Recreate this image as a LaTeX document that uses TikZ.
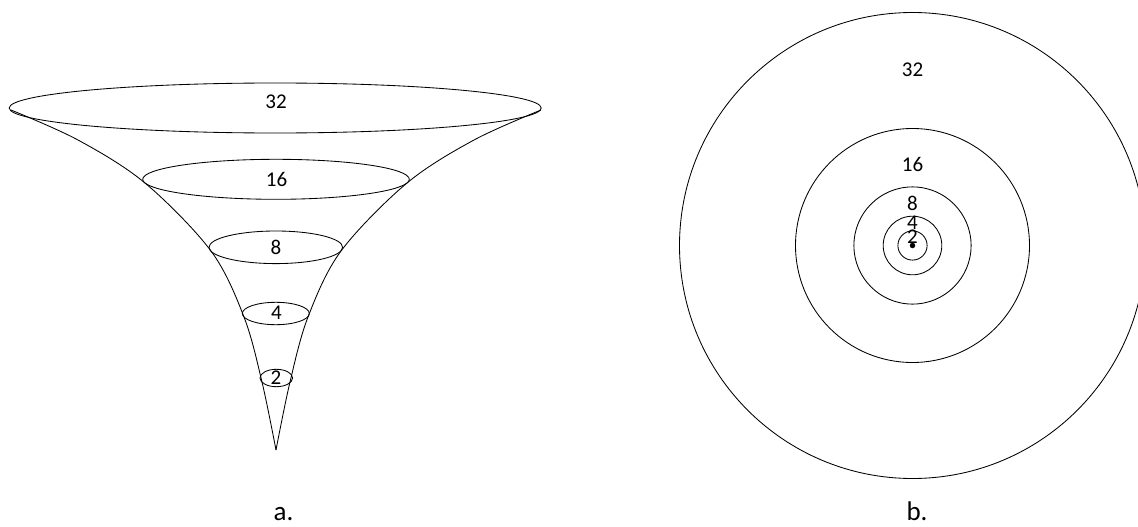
\documentclass[tikz,border=0pt]{standalone}
\usepackage{fontspec}
\setmainfont{Carlito}
\begin{document}
\begin{tikzpicture}[x=1pt,y=-1pt,
  edge/.style={draw=black, line width=0.85pt},
  lbl/.style={font=\fontsize{21}{21}\selectfont, inner sep=0pt},
  capt/.style={font=\fontsize{27}{27}\selectfont, inner sep=0pt, anchor=base}]
\useasboundingbox (0,0) rectangle (1138,527);
% ---------- a. funnel ----------
\draw[edge] (275.2,108) ellipse [x radius=266pt, y radius=25pt];
\draw[edge] (276,179.3) ellipse [x radius=133.3pt, y radius=20pt];
\draw[edge] (275.8,247.3) ellipse [x radius=66.8pt, y radius=16.3pt];
\draw[edge] (275.8,313.5) ellipse [x radius=33.5pt, y radius=11.2pt];
\draw[edge] (276.3,378) ellipse [x radius=16.3pt, y radius=8.7pt];
\coordinate (tip) at (276,450);
\draw[edge] plot[smooth, tension=0.55] coordinates {(11,110) (78,140) (145,183) (211,251) (244,317) (262,382) (276,450)};
\draw[edge] plot[smooth, tension=0.55] coordinates {(276,450) (290,382) (308,317) (341,251) (407,183) (474,140) (541,110)};
\node[lbl] (a32) at (276,102) {32};
\node[lbl] (a16) at (276.5,179) {16};
\node[lbl] (a8) at (276,247) {8};
\node[lbl] (a4) at (276.5,313) {4};
\node[lbl] (a2) at (276,378) {2};
\node[capt] (capa) at (283.5,520) {a.};
% ---------- b. circles ----------
\coordinate (c) at (912.5,245.5);
\draw[edge] (c) circle [radius=233pt];
\draw[edge] (c) circle [radius=117pt];
\draw[edge] (c) circle [radius=58.6pt];
\draw[edge] (c) circle [radius=29.3pt];
\draw[edge] (c) circle [radius=14.6pt];
\node[circle, fill=black, inner sep=0pt, minimum size=5.5pt] (dot) at (c) {};
\node[lbl] (b32) at (912.5,69.6) {32};
\node[lbl] (b16) at (912.5,164.8) {16};
\node[lbl] (b8) at (912.5,203.5) {8};
\node[lbl] (b4) at (912.5,223) {4};
\node[lbl] (b2) at (912.5,236.5) {2};
\node[capt] (capb) at (917,520) {b.};
\end{tikzpicture}
\end{document}
